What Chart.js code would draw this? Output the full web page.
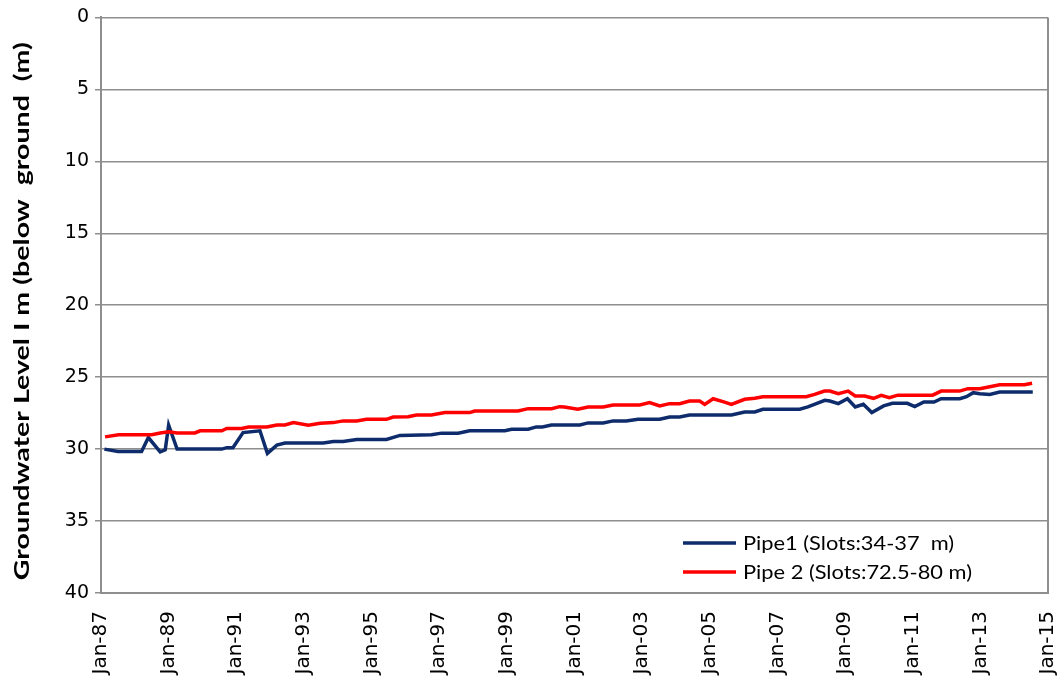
<!DOCTYPE html>
<html>
<head>
<meta charset="utf-8">
<script src="https://cdn.jsdelivr.net/npm/chart.js@4/dist/chart.umd.min.js"></script>
<style>
  html, body { margin: 0; padding: 0; background: #fff; }
  #wrap { width: 1061px; height: 677px; position: relative; overflow: hidden; }
</style>
</head>
<body>
<div id="wrap"><canvas id="c" width="1061" height="677"></canvas></div>
<script>
// Dates as decimal years; depth below ground in metres
const pipe1Dates = [1987.1, 1987.5, 1988.2, 1988.4, 1988.75, 1988.9, 1989.0, 1989.25, 1990.57, 1990.72,
  1990.9, 1991.2, 1991.7, 1991.92, 1992.2, 1992.44, 1993.57, 1993.87, 1994.16, 1994.56,
  1995.44, 1995.84, 1996.77, 1997.07, 1997.56, 1997.9, 1998.94, 1999.14, 1999.63, 1999.87,
  2000.05, 2000.32, 2001.16, 2001.4, 2001.85, 2002.14, 2002.53, 2002.88, 2003.52, 2003.81,
  2004.11, 2004.4, 2005.64, 2006.03, 2006.33, 2006.57, 2007.66, 2007.9, 2008.15, 2008.4,
  2008.55, 2008.8, 2009.07, 2009.3, 2009.54, 2009.79, 2010.14, 2010.4, 2010.84, 2011.06,
  2011.33, 2011.63, 2011.84, 2012.39, 2012.59, 2012.79, 2012.98, 2013.28, 2013.57, 2014.55];
const pipe1Levels = [30.0, 30.17, 30.17, 29.2, 30.2, 30.05, 28.34, 30.0, 30.0, 29.9,
  29.9, 28.85, 28.73, 30.3, 29.72, 29.58, 29.58, 29.47, 29.47, 29.33,
  29.33, 29.05, 29.0, 28.89, 28.89, 28.73, 28.73, 28.62, 28.62, 28.46,
  28.46, 28.32, 28.32, 28.18, 28.18, 28.04, 28.04, 27.93, 27.93, 27.77,
  27.77, 27.63, 27.63, 27.42, 27.42, 27.23, 27.23, 27.07, 26.84, 26.61,
  26.66, 26.84, 26.5, 27.07, 26.89, 27.46, 27.0, 26.82, 26.82, 27.05,
  26.73, 26.73, 26.5, 26.5, 26.36, 26.08, 26.15, 26.2, 26.04, 26.04];

const pipe2Dates = [1987.12, 1987.52, 1988.5, 1988.75, 1989.0, 1989.25, 1989.78, 1989.93, 1990.57, 1990.72,
  1991.16, 1991.36, 1991.9, 1992.2, 1992.44, 1992.69, 1993.13, 1993.48, 1993.87, 1994.16,
  1994.56, 1994.85, 1995.44, 1995.64, 1996.08, 1996.33, 1996.77, 1997.17, 1997.9, 1998.05,
  1999.33, 1999.63, 2000.32, 2000.56, 2000.7, 2001.1, 2001.4, 2001.85, 2002.14, 2002.93,
  2003.22, 2003.52, 2003.81, 2004.11, 2004.4, 2004.7, 2004.85, 2005.1, 2005.39, 2005.64,
  2006.03, 2006.33, 2006.57, 2007.85, 2008.1, 2008.39, 2008.55, 2008.8, 2009.09, 2009.3,
  2009.58, 2009.84, 2010.07, 2010.31, 2010.56, 2011.59, 2011.84, 2012.39, 2012.63, 2012.98,
  2013.28, 2013.57, 2014.3, 2014.53];
const pipe2Levels = [29.15, 29.0, 29.0, 28.88, 28.8, 28.88, 28.88, 28.73, 28.73, 28.57,
  28.57, 28.46, 28.46, 28.32, 28.32, 28.16, 28.34, 28.2, 28.16, 28.04,
  28.04, 27.93, 27.93, 27.77, 27.75, 27.63, 27.63, 27.46, 27.46, 27.35,
  27.35, 27.19, 27.19, 27.05, 27.08, 27.23, 27.07, 27.07, 26.93, 26.93,
  26.77, 27.0, 26.84, 26.84, 26.66, 26.66, 26.89, 26.5, 26.7, 26.89,
  26.54, 26.47, 26.36, 26.36, 26.2, 25.97, 25.97, 26.15, 25.97, 26.31,
  26.31, 26.47, 26.27, 26.43, 26.25, 26.25, 25.97, 25.97, 25.8, 25.8,
  25.67, 25.53, 25.53, 25.42];

const seriesNames = ['Pipe1 (Slots:34-37  m)', 'Pipe 2 (Slots:72.5-80 m)'];
const seriesColors = ['#0E2C6B', '#FF0000'];
const monthNames = ['Jan', 'Feb', 'Mar', 'Apr', 'May', 'Jun', 'Jul', 'Aug', 'Sep', 'Oct', 'Nov', 'Dec'];
const yAxisTitle = 'Groundwater Level I m (below  ground  (m)';

const toPoints = (xs, ys) => xs.map((x, i) => ({ x: x, y: ys[i] }));

function dateLabel(v) {
  const yr = Math.floor(v + 1e-6);
  const m = Math.round((v - yr) * 12) % 12;
  return monthNames[m] + '-' + String(yr % 100).padStart(2, '0');
}

const gridGrey = '#8E8E8E';

// Draw a string stretched along its baseline to a given length
function fillStretched(ctx, text, x, y, length) {
  const w = ctx.measureText(text).width;
  ctx.save();
  ctx.translate(x, y);
  ctx.scale(length / w, 1);
  ctx.fillText(text, 0, 0);
  ctx.restore();
}

// Legend drawn inside the plot area, lower right
const insideLegend = {
  id: 'insideLegend',
  afterDatasetsDraw(chart) {
    const ctx = chart.ctx;
    const a = chart.chartArea;
    ctx.save();
    ctx.font = '20px Lato, sans-serif';
    ctx.textBaseline = 'middle';
    ctx.textAlign = 'left';
    const ref = ctx.measureText(chart.data.datasets[1].label).width;
    const k = 229 / ref;
    chart.data.datasets.forEach((ds, i) => {
      const y = a.bottom - 50 + i * 29;
      const x0 = a.right - 365;
      ctx.strokeStyle = ds.borderColor;
      ctx.lineWidth = 3.5;
      ctx.beginPath();
      ctx.moveTo(x0, y);
      ctx.lineTo(x0 + 53, y);
      ctx.stroke();
      ctx.fillStyle = '#000';
      fillStretched(ctx, ds.label, x0 + 60, y + 1, ctx.measureText(ds.label).width * k);
    });
    ctx.restore();
  }
};

// Vertical axis title and right-hand frame of the plot area
const frameAndTitle = {
  id: 'frameAndTitle',
  beforeDatasetsDraw(chart) {
    const ctx = chart.ctx;
    const a = chart.chartArea;
    ctx.save();
    ctx.strokeStyle = gridGrey;
    ctx.lineWidth = 2;
    ctx.beginPath();
    ctx.moveTo(a.right, a.top);
    ctx.lineTo(a.right, a.bottom);
    ctx.stroke();
    ctx.restore();
  },
  afterDraw(chart) {
    const ctx = chart.ctx;
    const a = chart.chartArea;
    ctx.save();
    ctx.font = 'bold 20px Lato, sans-serif';
    ctx.fillStyle = '#000';
    ctx.textAlign = 'left';
    ctx.textBaseline = 'middle';
    ctx.translate(23, (a.top + a.bottom) / 2 + 6);
    ctx.rotate(-Math.PI / 2);
    const L = 538;
    fillStretched(ctx, yAxisTitle, -L / 2, 0, L);
    ctx.restore();
  }
};

new Chart(document.getElementById('c'), {
  type: 'line',
  data: {
    datasets: [
      { label: seriesNames[0], data: toPoints(pipe1Dates, pipe1Levels), borderColor: seriesColors[0],
        backgroundColor: seriesColors[0], borderWidth: 3.5, pointRadius: 0, tension: 0, order: 2 },
      { label: seriesNames[1], data: toPoints(pipe2Dates, pipe2Levels), borderColor: seriesColors[1],
        backgroundColor: seriesColors[1], borderWidth: 3.5, pointRadius: 0, tension: 0, order: 1 }
    ]
  },
  options: {
    responsive: false,
    animation: false,
    devicePixelRatio: 1,
    layout: { padding: { left: 4, right: 13, top: 17, bottom: 0 } },
    plugins: { legend: { display: false }, tooltip: { enabled: false } },
    scales: {
      x: {
        type: 'linear',
        min: 1987,
        max: 2015,
        afterBuildTicks(scale) {
          const t = [];
          for (let v = 1987; v <= 2015; v += 2) t.push({ value: v });
          scale.ticks = t;
        },
        afterFit(scale) {
          scale.height = 84;
          scale.paddingLeft = 0;
          scale.paddingRight = 0;
        },
        grid: { display: false, drawOnChartArea: false, tickLength: 7, tickColor: gridGrey, tickWidth: 1.5 },
        border: { color: gridGrey, width: 2 },
        ticks: {
          minRotation: 90, maxRotation: 90, autoSkip: false,
          color: '#000', font: { family: '"DejaVu Sans", sans-serif', size: 20 }, padding: 11,
          callback: (v) => dateLabel(v)
        }
      },
      y: {
        type: 'linear',
        reverse: true,
        min: 0,
        max: 40,
        afterBuildTicks(scale) {
          const t = [];
          for (let v = 0; v <= 40; v += 5) t.push({ value: v });
          scale.ticks = t;
        },
        afterFit(scale) { scale.width = 97; },
        grid: { color: gridGrey, lineWidth: 1.5, tickLength: 6, tickColor: gridGrey },
        border: { color: gridGrey, width: 2 },
        ticks: { color: '#000', font: { family: '"DejaVu Sans", sans-serif', size: 19 }, padding: 6 },
        title: { display: false }
      }
    }
  },
  plugins: [insideLegend, frameAndTitle]
});
</script>
</body>
</html>
